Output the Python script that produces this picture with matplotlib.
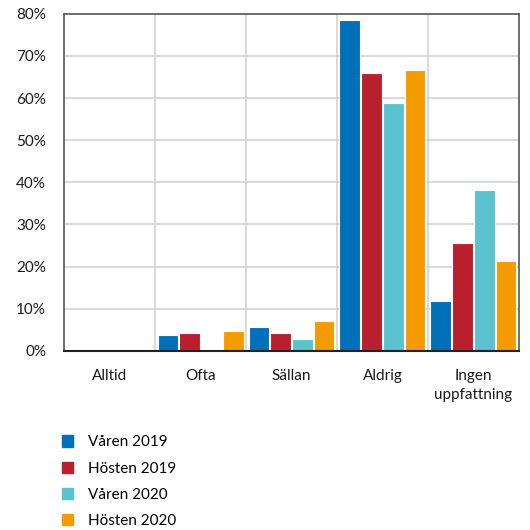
import numpy as np
import matplotlib.pyplot as plt
from matplotlib.patches import Patch

plt.rcParams['font.family'] = ['Lato', 'DejaVu Sans']

categories = ["Alltid", "Ofta", "Sällan", "Aldrig", "Ingen\nuppfattning"]
series = ["Våren 2019", "Hösten 2019", "Våren 2020", "Hösten 2020"]
varen_2019 = [0, 3.8, 5.7, 78.5, 11.8]
hosten_2019 = [0, 4.2, 4.2, 66.0, 25.5]
varen_2020 = [0, 0, 2.9, 58.8, 38.2]
hosten_2020 = [0, 4.7, 7.1, 66.7, 21.4]
colors = ["#0070B8", "#BA1F2D", "#5BC2CF", "#F59B00"]

values = [varen_2019, hosten_2019, varen_2020, hosten_2020]

fig = plt.figure(figsize=(5.3, 5.3), dpi=100)
ax = fig.add_axes([0.121, 0.338, 0.858, 0.636])

x = np.arange(len(categories))
offsets = [-0.36, -0.12, 0.12, 0.36]
for vals, off, col, name in zip(values, offsets, colors, series):
    ax.bar(x + off, vals, width=0.225, color=col, edgecolor="white",
           linewidth=0.8, label=name, zorder=2)

ax.set_xlim(-0.5, 4.5)
ax.set_ylim(0, 80)
ax.set_yticks(np.arange(0, 81, 10))
ax.set_yticklabels([f"{v}%" for v in range(0, 81, 10)])
ax.set_xticks(x)
ax.set_xticklabels(categories, linespacing=1.45)
ax.tick_params(axis="both", length=0, labelsize=11, colors="#1a1a1a")
ax.tick_params(axis="x", pad=13)
ax.tick_params(axis="y", pad=13)

# grid: horizontal at each 10%, vertical at category borders
for v in range(10, 80, 10):
    ax.axhline(v, color="#d0d0d0", linewidth=1.1, zorder=1)
for b in np.arange(0.5, 4.5, 1):
    ax.axvline(b, color="#d0d0d0", linewidth=1.1, zorder=1)

for side in ["left", "top", "right"]:
    ax.spines[side].set_color("#555555")
    ax.spines[side].set_linewidth(1.2)
    ax.spines[side].set_zorder(4)
ax.spines["bottom"].set_color("#222222")
ax.spines["bottom"].set_linewidth(1.5)
ax.spines["bottom"].set_zorder(4)

handles = [Patch(facecolor=c, edgecolor=c) for c in colors]
fig.legend(handles, series, loc="upper left", bbox_to_anchor=(0.105, 0.19),
           frameon=False, fontsize=11, handlelength=0.75, handleheight=0.75,
           labelspacing=0.8, handletextpad=0.95, borderaxespad=0)

fig.savefig("out.png", dpi=100)
